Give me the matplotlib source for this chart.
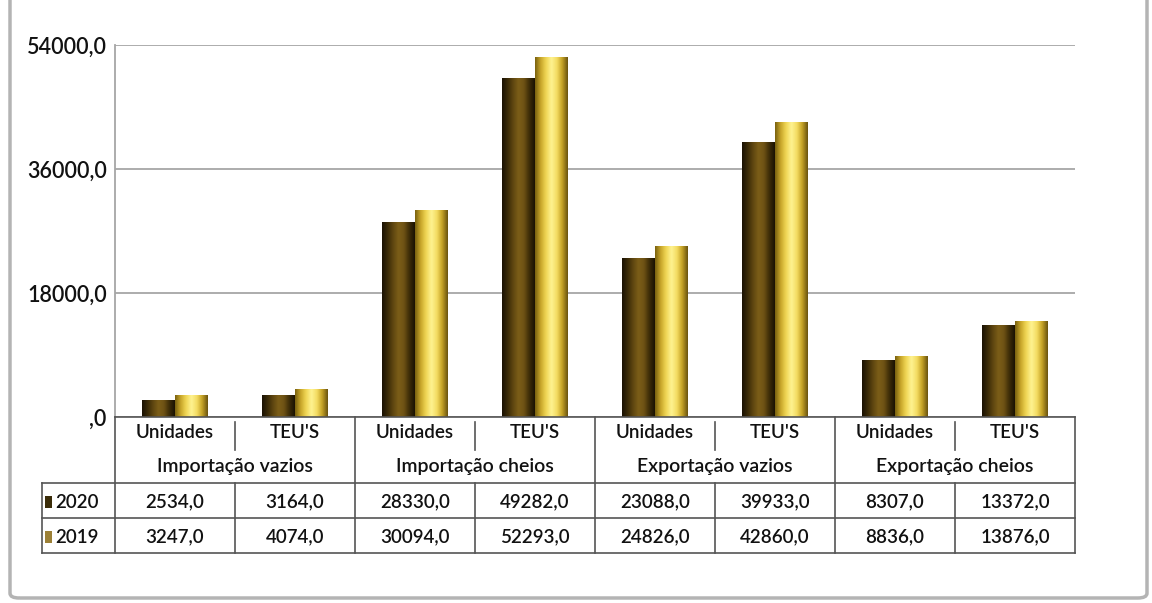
import numpy as np
import matplotlib
matplotlib.use("Agg")
import matplotlib.pyplot as plt
from matplotlib.colors import LinearSegmentedColormap
from matplotlib.patches import FancyBboxPatch, Rectangle
from matplotlib.transforms import blended_transform_factory

# data
groups = ["Importação vazios", "Importação cheios", "Exportação vazios", "Exportação cheios"]
units = ["Unidades", "TEU'S"]
years = ["2020", "2019"]
vals_2020 = [2534.0, 3164.0, 28330.0, 49282.0, 23088.0, 39933.0, 8307.0, 13372.0]
vals_2019 = [3247.0, 4074.0, 30094.0, 52293.0, 24826.0, 42860.0, 8836.0, 13876.0]
yticks = [0, 18000, 36000, 54000]

# colour profiles across the width of each bar (bevelled look)
profiles = {
    "2020": ["#1a1204", "#3a2a07", "#5e4610", "#7c5e18", "#6e5214", "#3e2d08", "#1a1204"],
    "2019": ["#7a6210", "#c8a62a", "#f0d655", "#fff392", "#f4dc62", "#c4a125", "#6a5410"],
}
key_colors = {"2020": "#3a2c08", "2019": "#9c8036"}

plt.rcParams["font.family"] = ["Lato", "DejaVu Sans"]
tc = "#111111"
fw = "semibold"


def fmt(v):
    s = "{:.1f}".format(v).replace(".", ",")
    return ",0" if v == 0 else s


fig = plt.figure(figsize=(11.52, 6.03), dpi=100)
fig.patch.set_facecolor("white")

# outer rounded frame (top edge lies outside the picture)
frame = FancyBboxPatch((10 / 1152, 5 / 603), 1137 / 1152, 700 / 603,
                       boxstyle="round,pad=0,rounding_size=0.008",
                       transform=fig.transFigure, fc="none", ec="#b4b4b4",
                       lw=2.5, zorder=0)
fig.patches.append(frame)

ax = fig.add_axes([115 / 1152, 186 / 603, 960 / 1152, 372 / 603])
ax.set_facecolor("none")

x = np.arange(len(vals_2020))
w = 0.275
bars20 = ax.bar(x - w / 2, vals_2020, w, color="none", edgecolor="none", zorder=3)
bars19 = ax.bar(x + w / 2, vals_2019, w, color="none", edgecolor="none", zorder=3)

for bars, yr in [(bars20, "2020"), (bars19, "2019")]:
    cmap = LinearSegmentedColormap.from_list("b" + yr, profiles[yr])
    grad = np.linspace(0, 1, 64).reshape(1, -1)
    for b in bars:
        x0, bw, h = b.get_x(), b.get_width(), b.get_height()
        im = ax.imshow(grad, cmap=cmap, aspect="auto", extent=(x0, x0 + bw, 0, h),
                       zorder=3, interpolation="bicubic")
        im.set_clip_path(b)
        # lighter cap at the top of the bar
        cap = h - min(1100, h * 0.5)
        im2 = ax.imshow(grad, cmap=cmap, aspect="auto",
                        extent=(x0, x0 + bw, cap, h), zorder=4, alpha=0.55,
                        interpolation="bicubic")
        im2.set_clip_path(b)

ax.set_xlim(-0.5, len(vals_2020) - 0.5)
ax.set_ylim(0, 54000)
ax.set_yticks(yticks)
ax.set_yticklabels([fmt(v) for v in yticks], fontsize=15.5, color=tc, fontweight=fw)
ax.tick_params(axis="y", length=0, pad=6)
ax.set_xticks([])
ax.yaxis.grid(True, color="#a6a6a6", lw=1.3, zorder=1)
for s in ["top", "right", "bottom"]:
    ax.spines[s].set_visible(False)
ax.spines["left"].set_color("#a6a6a6")
ax.spines["left"].set_linewidth(1.3)

# data table under the plot
tr = blended_transform_factory(ax.transData, ax.transAxes)
lc = "#555555"
n = len(vals_2020)
r0, r1, r2, r3 = 0.0, -0.1774, -0.2715, -0.3656
xl = -1.108

def line(xs, ys):
    ax.plot(xs, ys, color=lc, lw=1.2, transform=tr, clip_on=False, zorder=5)

line([-0.5, n - 0.5], [r0, r0])
for yy in [r1, r2, r3]:
    line([xl, n - 0.5], [yy, yy])
line([xl, xl], [r1, r3])
for i in range(n + 1):
    xx = i - 0.5
    if i % 2 == 0:
        line([xx, xx], [r0, r3])
    else:
        line([xx, xx], [r1, r3])
        line([xx, xx], [-0.013, -0.089])

fs = 13.5
for i in range(n):
    ax.text(i, -0.043, units[i % 2], transform=tr, ha="center", va="center",
            fontsize=fs, color=tc, fontweight=fw)
for g, name in enumerate(groups):
    ax.text(2 * g + 0.5, -0.134, name, transform=tr, ha="center", va="center",
            fontsize=fs + 0.5, color=tc, fontweight=fw)

for yr, vals, yc in [("2020", vals_2020, -0.2285), ("2019", vals_2019, -0.3226)]:
    for i, v in enumerate(vals):
        ax.text(i, yc, fmt(v), transform=tr, ha="center", va="center",
                fontsize=fs, color=tc, fontweight=fw)
    ax.add_patch(Rectangle((-1.083, yc - 0.016), 0.06, 0.032, transform=tr,
                           fc=key_colors[yr], ec="none", clip_on=False))
    ax.text(-1.0, yc, yr, transform=tr, ha="left", va="center", fontsize=fs,
            color=tc, fontweight=fw)

fig.savefig("out.png", dpi=100)
